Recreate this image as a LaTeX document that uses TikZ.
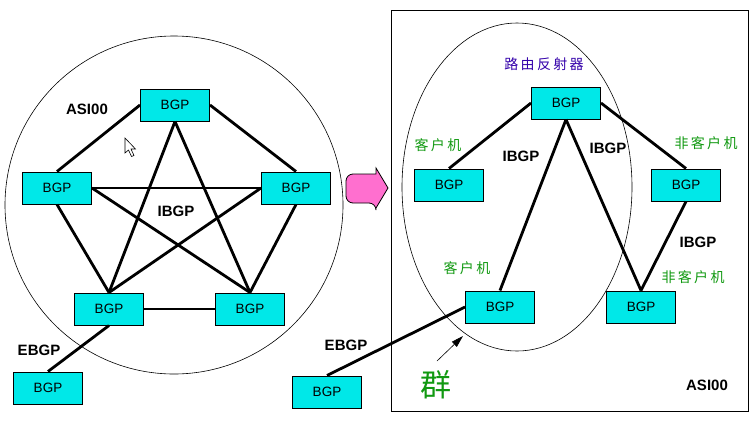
\documentclass[tikz,border=0pt]{standalone}
\usepackage{fontspec}
\setmainfont{Liberation Sans}
\newfontfamily\cjk{Noto Sans CJK SC}
\usetikzlibrary{arrows.meta}
\definecolor{boxcyan}{HTML}{00E8E8}
\definecolor{arrowpink}{HTML}{FF6FCF}
\definecolor{lblgreen}{HTML}{119911}
\definecolor{lblpurple}{HTML}{3300AA}
\tikzset{
  bgpbox/.style={draw=black, line width=1pt, fill=boxcyan, minimum width=69pt, minimum height=32pt, inner sep=0pt, font=\fontsize{13.5}{15}\selectfont},
  link/.style={line width=2.8pt},
  thin/.style={line width=0.6pt},
  boldlbl/.style={font=\fontsize{15}{17}\selectfont\bfseries},
  cnlbl/.style={font=\cjk\fontsize{14}{16}\selectfont, text=lblgreen},
}
\begin{document}
\begin{tikzpicture}[x=1pt,y=-1pt]
\useasboundingbox (0,0) rectangle (752,421);
% ---------- left panel ----------
\draw[thin] (174,205) circle[radius=169pt];
\node[bgpbox] (t) at (175,105) {BGP};
\node[bgpbox] (l) at (57,188) {BGP};
\node[bgpbox] (r) at (296,188) {BGP};
\node[bgpbox] (bl) at (109,309) {BGP};
\node[bgpbox] (br) at (250,309) {BGP};
\node[bgpbox] (ext1) at (48,388) {BGP};
\node[boldlbl] (as1) at (87,109) {ASI00};
\node[boldlbl] (ib1) at (176,211) {IBGP};
\node[boldlbl] (eb1) at (39,350) {EBGP};
\draw[link] (t.west) -- (l.north);
\draw[link] (t.east) -- (r.north);
\draw[link] (t.south) -- (bl.north);
\draw[link] (t.south) -- (br.north);
\draw[link] (l.east) -- (r.west);
\draw[link] (l.east) -- (br.north);
\draw[link] (r.west) -- (bl.north);
\draw[link] (l.south) -- (bl.north);
\draw[link] (r.south) -- (br.north);
\draw[link] (bl.east) -- (br.west);
\draw[link] (bl.south) -- (ext1.north);
% mouse cursor
\draw[fill=white, line width=0.6pt] (125,138) -- (125,153) -- (128.5,150) -- (131.5,156.5) -- (134,155.5) -- (131,149) -- (135.5,149) -- cycle;
% pink arrow
\draw[fill=arrowpink, line width=0.8pt, rounded corners=7pt] (376,174) -- (346,174) -- (346,203) -- (376,203) [sharp corners] -- (376,208) -- (388,188) -- (376,168) -- cycle;
% ---------- right panel ----------
\draw[line width=1pt] (391,10) rectangle (748,411);
\draw[thin] (517,187) ellipse[x radius=115pt, y radius=164pt];
\node[bgpbox] (rr) at (566,103) {BGP};
\node[bgpbox] (c1) at (449,185) {BGP};
\node[bgpbox] (n1) at (686,185) {BGP};
\node[bgpbox] (c2) at (500,307) {BGP};
\node[bgpbox] (n2) at (641,307) {BGP};
\node[bgpbox] (ext2) at (327,392) {BGP};
\draw[link] (rr.west) -- (c1.north);
\draw[link] (rr.south) -- (c2.north);
\draw[link] (rr.south) -- (n2.north);
\draw[link] (rr.east) -- (n1.north);
\draw[link] (n1.south) -- (n2.north);
\draw[link] (ext2.north) -- (c2.west);
\node[font=\cjk\fontsize{14}{16}\selectfont, text=lblpurple] (rrl) at (544,64) {路\,由\,反\,射\,器};
\node[cnlbl] (cl1) at (438,145) {客\,户\,机};
\node[cnlbl] (cl2) at (467,268) {客\,户\,机};
\node[cnlbl] (nl1) at (706,143) {非\,客\,户\,机};
\node[cnlbl] (nl2) at (693,277) {非\,客\,户\,机};
\node[boldlbl] (ib2) at (521,156) {IBGP};
\node[boldlbl] (ib3) at (608,148) {IBGP};
\node[boldlbl] (ib4) at (698,242) {IBGP};
\node[boldlbl] (eb2) at (346,345) {EBGP};
\node[boldlbl] (as2) at (707,385) {ASI00};
\node[font=\cjk\fontsize{31}{33}\selectfont, text=lblgreen] (qun) at (436,385) {群};
\coordinate (atip) at (463,336);
\draw[line width=0.6pt, -{Triangle[length=12pt,width=7pt]}] (437,361) -- (atip);
\end{tikzpicture}
\end{document}
